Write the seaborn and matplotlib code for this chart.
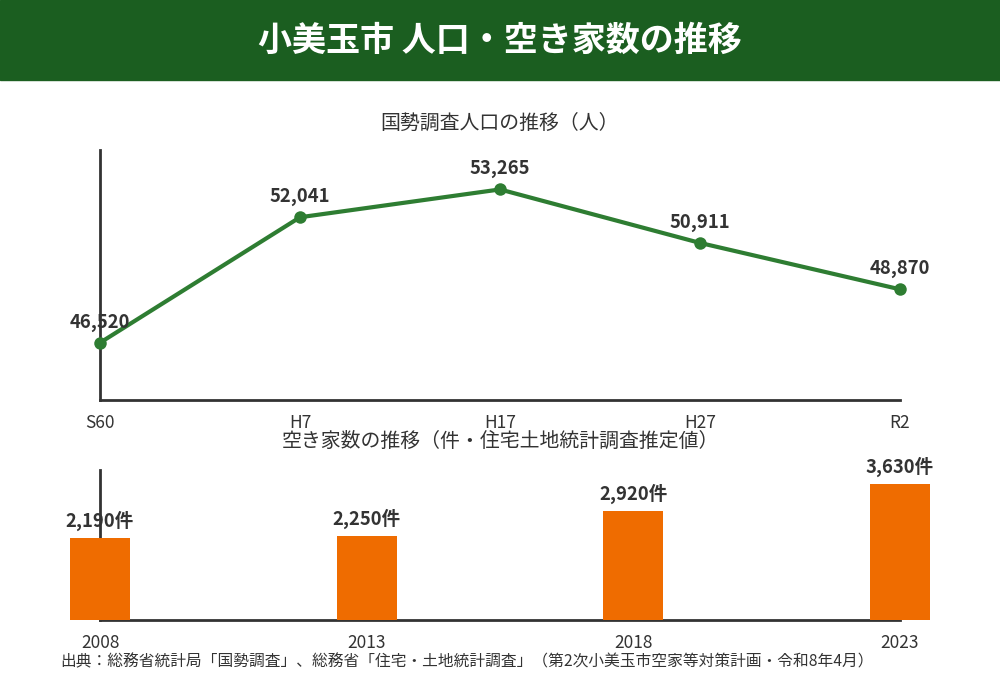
import numpy as np
import pandas as pd
import matplotlib
matplotlib.use("Agg")
import matplotlib.pyplot as plt
import seaborn as sns
from matplotlib.patches import Rectangle

# ---- data ----
census_labels = ["S60", "H7", "H17", "H27", "R2"]
census_pop = [46520, 52041, 53265, 50911, 48870]

vacant_years = ["2008", "2013", "2018", "2023"]
vacant_counts = [2190, 2250, 2920, 3630]

title = "小美玉市 人口・空き家数の推移"
sub_pop = "国勢調査人口の推移（人）"
sub_vac = "空き家数の推移（件・住宅土地統計調査推定値）"
source = "出典：総務省統計局「国勢調査」、総務省「住宅・土地統計調査」（第2次小美玉市空家等対策計画・令和8年4月）"

GREEN_DARK = "#1b5e20"
GREEN = "#2e7d32"
ORANGE = "#ef6c00"
TXT = "#333333"

sns.set_theme(style="white")
plt.rcParams["font.family"] = ["Noto Sans CJK JP", "DejaVu Sans"]

fig = plt.figure(figsize=(10, 7), dpi=100)

# header band
fig.patches.append(Rectangle((0, 1 - 80 / 700), 1, 80 / 700, transform=fig.transFigure,
                             color=GREEN_DARK, zorder=0))
fig.text(0.5, 1 - 40 / 700, title, ha="center", va="center", color="white",
         fontsize=24.5, fontweight="bold")

# ---- population line ----
df_pop = pd.DataFrame({"pos": np.arange(len(census_labels)), "pop": census_pop})
ax1 = fig.add_axes([0.1, 1 - 400 / 700, 0.8, 250 / 700])
sns.lineplot(data=df_pop, x="pos", y="pop", ax=ax1, color=GREEN, linewidth=3,
             marker="o", markersize=9, markeredgewidth=0, clip_on=False, zorder=3)
ax1.set_xlim(0, len(census_labels) - 1)
ax1.set_ylim(44000, 55000)
ax1.set_xticks(df_pop["pos"])
ax1.set_xticklabels(census_labels)
ax1.set_yticks([])
ax1.set_xlabel("")
ax1.set_ylabel("")
for s in ["top", "right"]:
    ax1.spines[s].set_visible(False)
for s in ["left", "bottom"]:
    ax1.spines[s].set_color(TXT)
    ax1.spines[s].set_linewidth(2)
ax1.tick_params(axis="x", length=0, pad=10, labelsize=12.5, labelcolor=TXT)
for xp, v in zip(df_pop["pos"], census_pop):
    ax1.annotate(f"{v:,}", (xp, v), xytext=(0, 8), textcoords="offset points",
                 ha="center", va="bottom", fontsize=13.3, fontweight="bold", color=TXT)
fig.text(0.5, 1 - 123 / 700, sub_pop, ha="center", va="center", fontsize=14.3, color=TXT)

# ---- vacant houses bars ----
df_vac = pd.DataFrame({"year": vacant_years, "count": vacant_counts})
ax2 = fig.add_axes([0.1, 1 - 620 / 700, 0.8, 150 / 700])
sns.barplot(data=df_vac, x="year", y="count", ax=ax2, color=ORANGE, width=0.225,
            saturation=1, linewidth=0, zorder=3)
for p in ax2.patches:
    p.set_clip_on(False)
ax2.set_xlim(0, len(vacant_years) - 1)
ax2.set_ylim(0, 4000)
ax2.set_yticks([])
ax2.set_xlabel("")
ax2.set_ylabel("")
for s in ["top", "right"]:
    ax2.spines[s].set_visible(False)
for s in ["left", "bottom"]:
    ax2.spines[s].set_color(TXT)
    ax2.spines[s].set_linewidth(2)
ax2.tick_params(axis="x", length=0, pad=10, labelsize=12.5, labelcolor=TXT)
for i, v in enumerate(vacant_counts):
    ax2.annotate(f"{v:,}件", (i, v), xytext=(0, 5), textcoords="offset points",
                 ha="center", va="bottom", fontsize=13.3, fontweight="bold", color=TXT,
                 annotation_clip=False)
fig.text(0.5, 1 - 441 / 700, sub_vac, ha="center", va="center", fontsize=14.3, color=TXT)

fig.text(0.06, 1 - 662 / 700, source, ha="left", va="center", fontsize=11.3, color=TXT)

fig.savefig("out.png", dpi=100)
